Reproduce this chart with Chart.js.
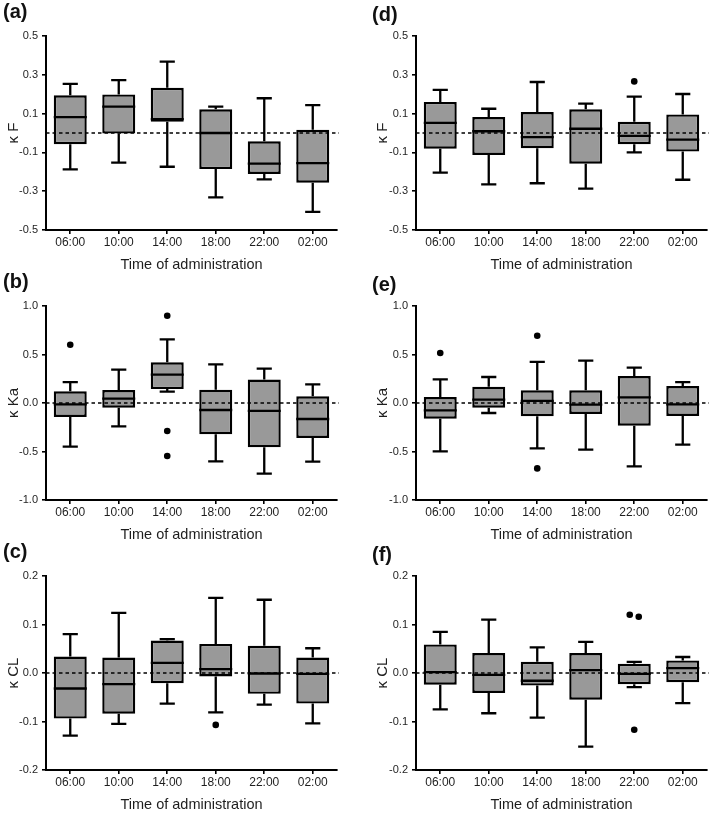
<!DOCTYPE html>
<html>
<head>
<meta charset="utf-8">
<script src="https://cdn.jsdelivr.net/npm/chart.js@4/dist/chart.umd.min.js"></script>
<style>
  html, body { margin: 0; padding: 0; background: #fff; }
  body { width: 711px; height: 816px; position: relative; overflow: hidden; }
  .panel { position: absolute; }
</style>
</head>
<body>
<div class="panel" style="left:0;top:0;width:355px;height:276px"><canvas id="ca"></canvas></div>
<div class="panel" style="left:355px;top:0;width:356px;height:276px"><canvas id="cd"></canvas></div>
<div class="panel" style="left:0;top:270px;width:355px;height:276px"><canvas id="cb"></canvas></div>
<div class="panel" style="left:355px;top:270px;width:356px;height:276px"><canvas id="ce"></canvas></div>
<div class="panel" style="left:0;top:540px;width:355px;height:276px"><canvas id="cc"></canvas></div>
<div class="panel" style="left:355px;top:540px;width:356px;height:276px"><canvas id="cf"></canvas></div>
<script>
// ---------------- data ----------------
const categories = ['06:00', '10:00', '14:00', '18:00', '22:00', '02:00'];
const xTitle = 'Time of administration';

// (a) κ F
const aMin = [-0.187, -0.153, -0.174, -0.332, -0.239, -0.407];
const aQ1  = [-0.058, -0.003,  0.058, -0.186, -0.211, -0.256];
const aMed = [ 0.082,  0.136,  0.072,  0.000, -0.158, -0.155];
const aQ3  = [ 0.194,  0.199,  0.233,  0.122, -0.043,  0.017];
const aMax = [ 0.253,  0.273,  0.368,  0.136,  0.179,  0.144];
const aOut = [];

// (b) κ Ka
const bMin = [-0.450, -0.241, 0.117, -0.601, -0.729, -0.605];
const bQ1  = [-0.144, -0.048, 0.144, -0.323, -0.457, -0.361];
const bMed = [-0.014,  0.045, 0.292, -0.072, -0.082, -0.165];
const bQ3  = [ 0.120,  0.134, 0.419,  0.137,  0.241,  0.069];
const bMax = [ 0.216,  0.344, 0.656,  0.399,  0.354,  0.192];
const bOut = [['06:00', 0.601], ['14:00', 0.900], ['14:00', -0.289], ['14:00', -0.546]];

// (c) κ CL
const cMin = [-0.129, -0.105, -0.063, -0.081, -0.065, -0.104];
const cQ1  = [-0.094, -0.084, -0.021, -0.007, -0.043, -0.063];
const cMed = [-0.032, -0.023,  0.021,  0.008, -0.001, -0.002];
const cQ3  = [ 0.034,  0.032,  0.067,  0.060,  0.056,  0.032];
const cMax = [ 0.080,  0.124,  0.070,  0.155,  0.151,  0.051];
const cOut = [['18:00', -0.107]];

// (d) κ F
const dMin = [-0.204, -0.265, -0.259, -0.287, -0.100, -0.241];
const dQ1  = [-0.081, -0.113, -0.079, -0.158, -0.058, -0.096];
const dMed = [ 0.052,  0.009, -0.021,  0.022, -0.015, -0.034];
const dQ3  = [ 0.160,  0.082,  0.108,  0.122,  0.058,  0.096];
const dMax = [ 0.222,  0.125,  0.263,  0.151,  0.187,  0.201];
const dOut = [['22:00', 0.266]];

// (e) κ Ka
const eMin = [-0.498, -0.103, -0.467, -0.481, -0.653, -0.430];
const eQ1  = [-0.162, -0.048, -0.137, -0.113, -0.234, -0.134];
const eMed = [-0.076,  0.034,  0.021, -0.017,  0.058, -0.014];
const eQ3  = [ 0.062,  0.168,  0.131,  0.131,  0.278,  0.175];
const eMax = [ 0.244,  0.268,  0.423,  0.436,  0.364,  0.216];
const eOut = [['06:00', 0.515], ['14:00', 0.694], ['14:00', -0.674]];

// (f) κ CL
const fMin = [-0.075, -0.083, -0.092, -0.152, -0.029, -0.062];
const fQ1  = [-0.024, -0.041, -0.026, -0.055, -0.023, -0.019];
const fMed = [ 0.002, -0.004, -0.016,  0.006, -0.002,  0.010];
const fQ3  = [ 0.059,  0.041,  0.023,  0.041,  0.019,  0.026];
const fMax = [ 0.085,  0.110,  0.053,  0.064,  0.023,  0.033];
const fOut = [['22:00', 0.120], ['22:00', 0.116], ['22:00', -0.117]];

// y-axis ranges (min, max, step)
const yRangeF  = [-0.5, 0.5, 0.2];
const yRangeKa = [-1.0, 1.0, 0.5];
const yRangeCL = [-0.2, 0.2, 0.1];

// ---------------- drawing ----------------
const FONT = "'Liberation Sans', Arial, Helvetica, sans-serif";
const BOX_FILL = '#999999';
const INK = '#000000';
const TEXT = '#1e1e1e';

const boxPlugin = {
  id: 'boxExtras',
  afterDatasetsDraw(chart) {
    const st = chart.options.plugins.boxExtras;
    const x = chart.scales.x, y = chart.scales.y;
    const ctx = chart.ctx;
    const meta = chart.getDatasetMeta(0);
    ctx.save();
    ctx.strokeStyle = INK;
    ctx.lineWidth = 2.3;
    ctx.lineCap = 'butt';
    st.min.forEach((mn, i) => {
      const bar = meta.data[i];
      const cx = x.getPixelForValue(i);
      const half = bar.width / 2;
      const capHalf = bar.width * 0.23;
      const yMin = y.getPixelForValue(mn), yMax = y.getPixelForValue(st.max[i]);
      const yQ1 = y.getPixelForValue(st.q1[i]), yQ3 = y.getPixelForValue(st.q3[i]);
      const yMed = y.getPixelForValue(st.med[i]);
      ctx.beginPath();
      ctx.moveTo(cx, yQ3); ctx.lineTo(cx, yMax);
      ctx.moveTo(cx - capHalf, yMax); ctx.lineTo(cx + capHalf, yMax);
      ctx.moveTo(cx, yQ1); ctx.lineTo(cx, yMin);
      ctx.moveTo(cx - capHalf, yMin); ctx.lineTo(cx + capHalf, yMin);
      ctx.moveTo(cx - half, yMed); ctx.lineTo(cx + half, yMed);
      ctx.stroke();
    });
    // dashed zero line
    const y0 = y.getPixelForValue(0);
    ctx.beginPath();
    ctx.setLineDash([3.5, 3]);
    ctx.lineWidth = 1.6;
    ctx.moveTo(chart.chartArea.left, y0);
    ctx.lineTo(chart.chartArea.right + 2, y0);
    ctx.stroke();
    ctx.setLineDash([]);
    // outliers
    ctx.fillStyle = INK;
    const pts = st.out.map(([cat, v]) => ({ i: categories.indexOf(cat), px: y.getPixelForValue(v) }));
    pts.forEach((p) => {
      let dx = 0;
      const close = pts.filter(q => q.i === p.i && Math.abs(q.px - p.px) < 8);
      if (close.length > 1) {
        const idx = close.indexOf(p);
        dx = (idx - (close.length - 1) / 2) * 9;
      }
      ctx.beginPath();
      ctx.arc(x.getPixelForValue(p.i) + dx, p.px, 3.3, 0, Math.PI * 2);
      ctx.fill();
    });
    ctx.restore();
  }
};

function fmt(v) {
  if (Math.abs(v) < 1e-9) v = 0;
  return v.toFixed(1);
}

function makePanel(id, label, yTitle, range, s, right) {
  const [mn, mx, step] = range;
  new Chart(document.getElementById(id), {
    type: 'bar',
    data: {
      labels: categories,
      datasets: [{
        data: s.q1.map((v, i) => [v, s.q3[i]]),
        backgroundColor: BOX_FILL,
        borderColor: INK,
        borderWidth: 2.4,
        borderSkipped: false,
        barPercentage: 0.68,
        categoryPercentage: 1.0
      }]
    },
    options: {
      responsive: true,
      maintainAspectRatio: false,
      animation: false,
      events: [],
      layout: { padding: right ? { left: 17, right: 4, top: 0, bottom: 0 } : { left: 3, right: 18, top: 0, bottom: 0 } },
      plugins: {
        legend: { display: false },
        tooltip: { enabled: false },
        title: {
          display: true,
          text: label,
          align: 'start',
          color: '#111',
          font: { family: FONT, size: 20, weight: 'bold' },
          padding: right ? { top: 3, bottom: 9 } : { top: 0, bottom: 12 }
        },
        boxExtras: { min: s.min, q1: s.q1, med: s.med, q3: s.q3, max: s.max, out: s.out }
      },
      scales: {
        x: {
          type: 'category',
          offset: true,
          afterFit(sc) { sc.height = 46; },
          grid: { offset: false, drawOnChartArea: false, drawTicks: true, tickLength: 4, color: INK, lineWidth: 1.6 },
          border: { display: true, color: INK, width: 2 },
          ticks: { color: TEXT, font: { family: FONT, size: 12 }, padding: 1, maxRotation: 0, autoSkip: false },
          title: { display: true, text: xTitle, color: TEXT, font: { family: FONT, size: 14.5 }, padding: { top: 0, bottom: 2 } }
        },
        y: {
          min: mn, max: mx,
          afterFit(sc) { sc.width = right ? 44 : 43; },
          afterBuildTicks(sc) {
            const t = [];
            for (let v = mn; v <= mx + 1e-9; v += step) t.push({ value: Math.round(v * 1000) / 1000 });
            sc.ticks = t;
          },
          grid: { drawOnChartArea: false, drawTicks: true, tickLength: 4, color: INK, lineWidth: 1.6 },
          border: { display: true, color: INK, width: 2 },
          ticks: { color: TEXT, font: { family: FONT, size: 11 }, padding: 4, callback: v => fmt(v) },
          title: { display: true, text: yTitle, color: TEXT, font: { family: FONT, size: 15 }, padding: { top: 1.5, bottom: 0 } }
        }
      }
    },
    plugins: [boxPlugin]
  });
}

makePanel('ca', '(a)', 'κ F',  yRangeF,  { min: aMin, q1: aQ1, med: aMed, q3: aQ3, max: aMax, out: aOut }, false);
makePanel('cb', '(b)', 'κ Ka', yRangeKa, { min: bMin, q1: bQ1, med: bMed, q3: bQ3, max: bMax, out: bOut }, false);
makePanel('cc', '(c)', 'κ CL', yRangeCL, { min: cMin, q1: cQ1, med: cMed, q3: cQ3, max: cMax, out: cOut }, false);
makePanel('cd', '(d)', 'κ F',  yRangeF,  { min: dMin, q1: dQ1, med: dMed, q3: dQ3, max: dMax, out: dOut }, true);
makePanel('ce', '(e)', 'κ Ka', yRangeKa, { min: eMin, q1: eQ1, med: eMed, q3: eQ3, max: eMax, out: eOut }, true);
makePanel('cf', '(f)', 'κ CL', yRangeCL, { min: fMin, q1: fQ1, med: fMed, q3: fQ3, max: fMax, out: fOut }, true);
</script>
</body>
</html>
